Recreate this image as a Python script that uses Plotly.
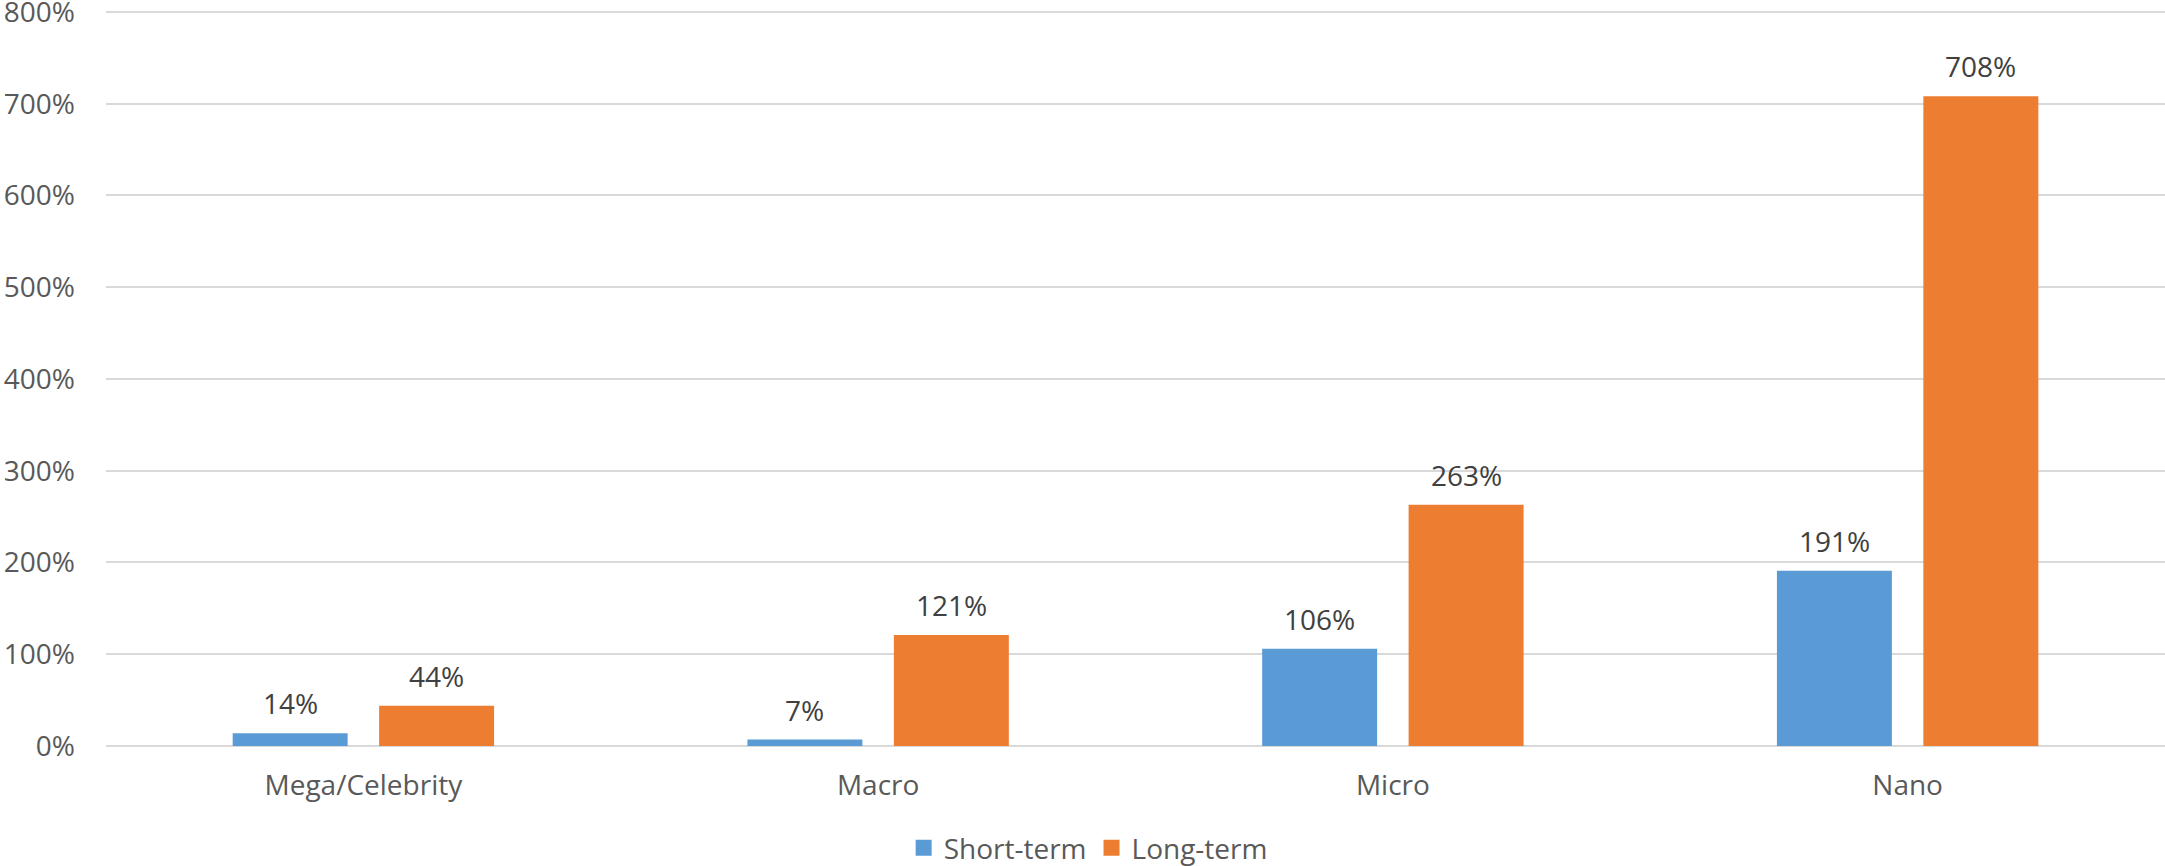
import plotly.graph_objects as go

categories = ["Mega/Celebrity", "Macro", "Micro", "Nano"]
short_term = [14, 7, 106, 191]
long_term = [44, 121, 263, 708]
series_names = ["Short-term", "Long-term"]
y_ticks = [0, 100, 200, 300, 400, 500, 600, 700, 800]
y_tick_text = [f"{t}%" for t in y_ticks]

BLUE = "#5B9BD5"
ORANGE = "#ED7D31"
FONT = "Open Sans"
SIZE = 28
BARGAP = 0.431
GROUPGAP = 0.215

fig = go.Figure()
for name, vals, color in [(series_names[0], short_term, BLUE),
                          (series_names[1], long_term, ORANGE)]:
    fig.add_trace(go.Bar(name=name, x=categories, y=vals, showlegend=False,
                         marker=dict(color=color, line=dict(width=0))))
    # legend entry with a larger square swatch
    fig.add_trace(go.Scatter(name=name, x=[None], y=[None], mode="markers",
                             marker=dict(symbol="square", size=18, color=color)))

# value labels above each bar, offset to the centre of its slot in the group
slot = (1 - BARGAP) / 2
for k, vals in enumerate([short_term, long_term]):
    dx = (k - 0.5) * slot
    for i, v in enumerate(vals):
        fig.add_annotation(x=i + dx, y=v, text=f"{v}%", showarrow=False,
                           yanchor="middle", yshift=30,
                           font=dict(family=FONT, size=SIZE, color="#404040"))

fig.update_layout(
    width=2165, height=866,
    margin=dict(l=106, r=0, t=7, b=120, autoexpand=False),
    paper_bgcolor="white", plot_bgcolor="white",
    barmode="group", bargap=BARGAP, bargroupgap=GROUPGAP,
    font=dict(family=FONT, size=SIZE, color="#595959"),
    showlegend=True,
    legend=dict(orientation="h", x=0.477, xanchor="center", y=-0.138,
                yanchor="middle", font=dict(family=FONT, size=SIZE, color="#595959"),
                itemwidth=30, tracegroupgap=0),
    xaxis=dict(showgrid=False, showline=False, ticks="", ticklabelstandoff=20,
               range=[-0.5, 3.5],
               tickfont=dict(family=FONT, size=SIZE, color="#595959")),
    yaxis=dict(range=[0, 805.4], tickvals=y_ticks, ticktext=y_tick_text,
               showgrid=True, gridcolor="#D9D9D9", gridwidth=2,
               zeroline=True, zerolinecolor="#D9D9D9", zerolinewidth=2,
               showline=False, ticks="", ticklabelstandoff=30,
               ticklabeloverflow="allow",
               tickfont=dict(family=FONT, size=SIZE, color="#595959")),
)

fig.write_html("out.html")
